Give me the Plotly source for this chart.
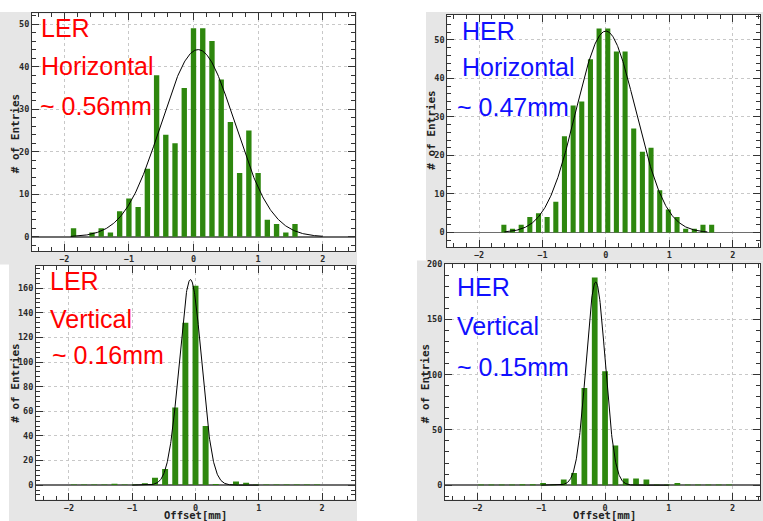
import numpy as np
import plotly.graph_objects as go

W, H = 763, 521

# ---------------- data ----------------
ler_h_centers = [-1.857, -1.714, -1.571, -1.429, -1.286, -1.143, -1.000, -0.857, -0.714,
                 -0.571, -0.429, -0.286, -0.143, 0.000, 0.143, 0.286, 0.429, 0.571,
                 0.714, 0.857, 1.000, 1.143, 1.286, 1.429, 1.571]
ler_h_counts = [2, 0, 1, 2, 1, 6, 9, 7, 16, 38, 24, 22, 35, 49, 49, 46, 37, 27, 15, 25,
                15, 4, 3, 1, 3]

her_h_centers = [-1.608, -1.472, -1.335, -1.199, -1.062, -0.926, -0.789, -0.653, -0.516,
                 -0.380, -0.243, -0.107, 0.030, 0.166, 0.303, 0.439, 0.576, 0.712,
                 0.849, 0.985, 1.122, 1.258, 1.395, 1.531, 1.668]
her_h_counts = [2, 1, 2, 4, 5, 4, 8, 25, 33, 34, 45, 53, 53, 47, 47, 27, 21, 22, 11, 6,
                4, 1, 1, 2, 2]

ler_v_centers = [-1.92, -1.76, -1.60, -1.44, -1.28, -1.12, -0.96, -0.80, -0.64, -0.48,
                 -0.32, -0.16, 0.00, 0.16, 0.32, 0.48, 0.64, 0.80, 0.96, 1.12, 1.28,
                 1.44, 1.60, 1.76, 1.92]
ler_v_counts = [0.5, 0.5, 0.5, 0.5, 1, 0.5, 0.5, 1.5, 6, 13, 63, 132, 162, 48, 0.8, 0,
                3, 2, 0.5, 0.5, 0.5, 0.5, 0.5, 0.5, 0.5]

her_v_centers = [-1.944, -1.782, -1.620, -1.458, -1.296, -1.134, -0.972, -0.810, -0.648,
                 -0.486, -0.324, -0.162, 0.000, 0.162, 0.324, 0.486, 0.648, 0.810,
                 0.972, 1.134, 1.296, 1.458, 1.620, 1.782, 1.944]
her_v_counts = [0.5, 0.5, 0.5, 0.5, 0.8, 0.8, 2, 0.5, 5, 11, 88, 188, 103, 36, 6, 6, 5,
                0.5, 0.5, 2, 0.5, 0.5, 0.5, 0.5, 0.5]

# Gaussian fit parameters: [amplitude, mean, sigma, x_from, x_to]
ler_h_fit = [44.0, 0.07, 0.57, -1.9, 2.0]
her_h_fit = [52.3, 0.0, 0.47, -1.6, 1.6]
ler_v_fit = [167.0, -0.08, 0.175, -1.0, 1.0]
her_v_fit = [184.0, -0.147, 0.15, -1.0, 1.0]

labels_tl = ["LER", "Horizontal", "~ 0.56mm"]
labels_tr = ["HER", "Horizontal", "~ 0.47mm"]
labels_bl = ["LER", "Vertical", "~ 0.16mm"]
labels_br = ["HER", "Vertical", "~ 0.15mm"]

y_title = "# of Entries"
x_title = "Offset[mm]"

# ---------------- layout helpers ----------------
def px_x(p):
    return p / W

def px_y(p):
    return 1 - p / H

GREEN = "#2e870e"
panels = [
    # name, centers, counts, barwidth, fit, frame px (l, r, t, b), xrange, yrange, dtick, minor
    ("1", ler_h_centers, ler_h_counts, 0.083, ler_h_fit, (32, 355, 8.5, 248.3), [-2.5, 2.5], [-3.3, 52.5], 10, 2),
    ("2", her_h_centers, her_h_counts, 0.080, her_h_fit, (447.3, 760, 10, 244.3), [-2.5, 2.43], [-3.75, 56.5], 10, 2),
    ("3", ler_v_centers, ler_v_counts, 0.094, ler_v_fit, (36, 355, 263.3, 499.3), [-2.52, 2.52], [-11.7, 178.2], 20, 4),
    ("4", her_v_centers, her_v_counts, 0.090, her_v_fit, (445, 760, 261.7, 499.3), [-2.51, 2.43], [-13, 200], 50, 10),
]

fig = go.Figure()
tickfont = dict(family="DejaVu Sans Mono", size=8.5, color="#2a2a2a", weight="bold")

for name, cx, cy, bw, fit, (l, r, t, b), xr, yr, dt, mn in panels:
    xa = "x" if name == "1" else "x" + name
    ya = "y" if name == "1" else "y" + name
    fig.add_trace(go.Bar(x=cx, y=cy, width=bw, marker=dict(color=GREEN, line=dict(width=0)),
                         xaxis=xa, yaxis=ya, showlegend=False, hoverinfo="skip"))
    amp, mu, sig, x0, x1 = fit
    xs = np.linspace(x0, x1, 400)
    ys = amp * np.exp(-0.5 * ((xs - mu) / sig) ** 2)
    fig.add_trace(go.Scatter(x=xs, y=ys, mode="lines", line=dict(color="black", width=1),
                             xaxis=xa, yaxis=ya, showlegend=False, hoverinfo="skip"))
    xkey = "xaxis" if name == "1" else "xaxis" + name
    ykey = "yaxis" if name == "1" else "yaxis" + name
    fig.layout[xkey] = dict(
        domain=[px_x(l), px_x(r)], range=xr, anchor=ya, dtick=1, tick0=0,
        ticks="inside", ticklen=7, tickcolor="#333", tickwidth=1,
        minor=dict(dtick=0.2, ticks="inside", ticklen=4, tickcolor="#333", showgrid=False),
        showline=True, linecolor="#333", linewidth=1, mirror="allticks",
        showgrid=True, gridcolor="#c8c8c8", griddash="dot", gridwidth=1,
        zeroline=False, tickfont=tickfont, fixedrange=True,
    )
    fig.layout[ykey] = dict(
        domain=[px_y(b), px_y(t)], range=yr, anchor=xa, dtick=dt, tick0=0,
        ticks="inside", ticklen=7, tickcolor="#333", tickwidth=1,
        minor=dict(dtick=mn, ticks="inside", ticklen=4, tickcolor="#333", showgrid=False),
        showline=True, linecolor="#333", linewidth=1, mirror="allticks",
        showgrid=True, gridcolor="#c8c8c8", griddash="dot", gridwidth=1,
        zeroline=True, zerolinecolor="#6e6e6e", zerolinewidth=1.6,
        tickfont=tickfont, fixedrange=True,
    )

# gray canvas backgrounds (pixel rectangles)
GRAY = "#e6e6e6"
for (x0, x1, y0, y1) in [(0, 357, 7, 262), (9, 357, 250, 521), (426, 763, 7, 258), (417, 763, 258, 521)]:
    fig.add_shape(type="rect", xref="paper", yref="paper", x0=px_x(x0), x1=px_x(x1),
                  y0=px_y(y1), y1=px_y(y0), fillcolor=GRAY, line=dict(width=0), layer="below")
# white plot frames over the gray
for name, cx, cy, bw, fit, (l, r, t, b), xr, yr, dt, mn in panels:
    fig.add_shape(type="rect", xref="paper", yref="paper", x0=px_x(l), x1=px_x(r),
                  y0=px_y(b), y1=px_y(t), fillcolor="white", line=dict(width=0), layer="below")

ann = []
DX, DY = -2, -6
def txt(s, x, y, color):
    ann.append(dict(text=s, x=px_x(x + DX), y=px_y(y + DY), xref="paper", yref="paper",
                    xanchor="left", yanchor="middle", showarrow=False,
                    font=dict(family="Liberation Sans", size=25, color=color)))

RED, BLUE = "#ff0000", "#1010ff"
for s, (x, y) in zip(labels_tl, [(41, 29), (41, 68), (40, 108)]):
    txt(s, x, y, RED)
for s, (x, y) in zip(labels_tr, [(462, 32), (462, 69), (457, 109)]):
    txt(s, x, y, BLUE)
for s, (x, y) in zip(labels_bl, [(50, 285), (50, 323), (52, 359)]):
    txt(s, x, y, RED)
for s, (x, y) in zip(labels_br, [(457, 291), (457, 330), (457, 372)]):
    txt(s, x, y, BLUE)

for (x, y) in [(15.5, 130), (432, 127), (15.5, 382), (425, 383)]:
    ann.append(dict(text=y_title, x=px_x(x), y=px_y(y), xref="paper", yref="paper",
                    xanchor="center", yanchor="middle", textangle=-90, showarrow=False,
                    font=dict(family="DejaVu Sans Mono", size=11, color="#222", weight="bold")))
for x in [195, 604]:
    ann.append(dict(text=x_title, x=px_x(x), y=0, xref="paper", yref="paper",
                    xanchor="center", yanchor="bottom", showarrow=False, borderpad=0,
                    yshift=-1,
                    font=dict(family="DejaVu Sans Mono", size=10.5, color="#222", weight="bold")))

fig.update_layout(width=W, height=H, margin=dict(l=0, r=0, t=0, b=0),
                  paper_bgcolor="white", plot_bgcolor="rgba(0,0,0,0)",
                  annotations=ann, barmode="overlay")

fig.write_html("out.html", config={"displayModeBar": False, "staticPlot": True},
               post_script="document.body.style.margin='0';document.body.style.padding='0';"
                           "document.documentElement.style.overflow='hidden';")
